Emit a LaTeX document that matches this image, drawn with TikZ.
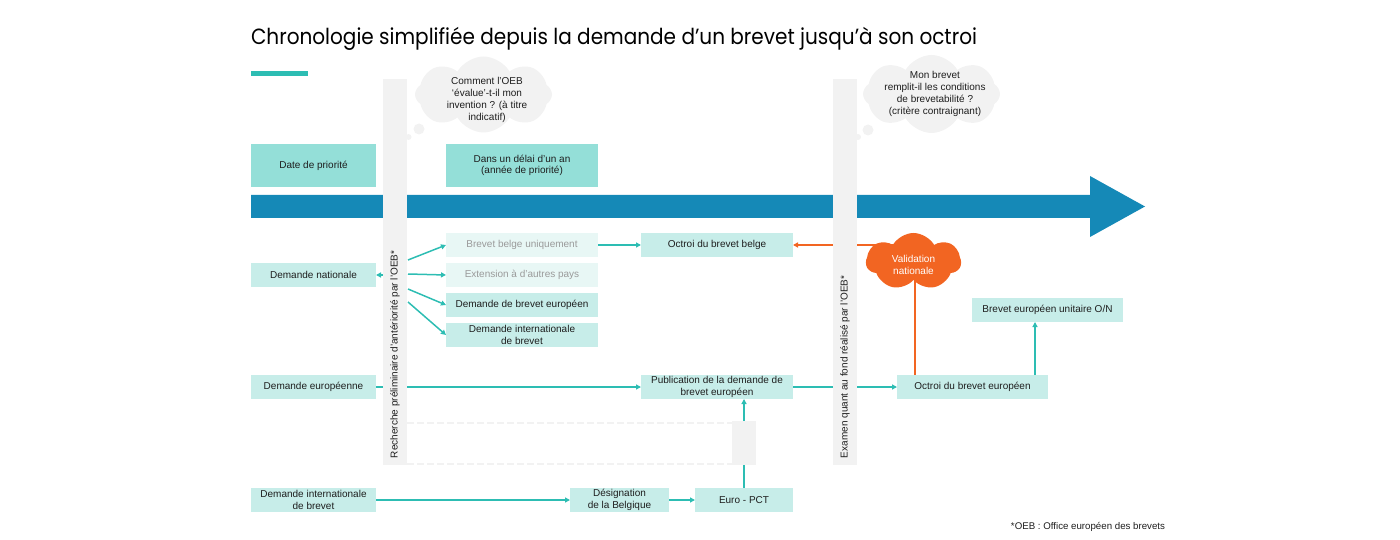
\documentclass[tikz,border=0pt]{standalone}
\usepackage{fontspec}
\usepackage{graphicx}
\setmainfont{Liberation Sans}
\newfontfamily\titlefont{Poppins}
\usetikzlibrary{positioning,shapes.symbols,arrows.meta,backgrounds}
\definecolor{arrowblue}{HTML}{1589B7}
\definecolor{boxdark}{HTML}{94DFD8}
\definecolor{boxlight}{HTML}{C7EDE9}
\definecolor{boxpale}{HTML}{E8F7F5}
\definecolor{linkteal}{HTML}{2DBDB3}
\definecolor{validorange}{HTML}{F26522}
\definecolor{bargray}{HTML}{F2F2F2}
\definecolor{textdark}{HTML}{1E1E1E}
\definecolor{textpale}{HTML}{9A9A9A}
\newcommand{\bubble}[2]{\fill[bargray] (#1) circle [radius=#2];}
\tikzstyle{every node}=[font=\fontsize{10}{11.5}\selectfont, text=textdark, inner sep=0, outer sep=0, align=center]
\tikzstyle{box}=[fill=boxlight, minimum height=24pt]
\tikzstyle{palebox}=[fill=boxpale, minimum height=24pt, minimum width=152pt, text=textpale]
\tikzstyle{headbox}=[fill=boxdark, minimum height=43pt]
\tikzstyle{bar}=[fill=bargray, minimum width=24pt, minimum height=386pt]
\tikzstyle{bartext}=[rotate=90, anchor=west, font=\fontsize{10}{12}\selectfont]
\tikzstyle{thought}=[shape=cloud, cloud puffs=8, cloud puff arc=120, aspect=1.8, fill=bargray]
\tikzstyle{thoughttext}=[font=\fontsize{10}{12}\selectfont]
\tikzstyle{link}=[draw=linkteal, line width=1.5pt, -{Triangle[length=5pt, width=5pt]}]
\tikzstyle{orangelink}=[draw=validorange, line width=1.5pt, -{Triangle[length=5pt, width=5pt]}]

\begin{document}
\begin{tikzpicture}[x=1pt, y=-1pt]
\useasboundingbox (0,0) rectangle (1400,540);

% title
\node[anchor=base west, font=\titlefont\fontsize{22}{24}\selectfont, text=black] (title) at (251,45)
  {\resizebox{726pt}{\height}{Chronologie simplifiée depuis la demande d’un brevet jusqu’à son octroi}};
\fill[linkteal] (251,71) rectangle (308,76);

% time line
\fill[arrowblue] (251,195) -- (1090,195) -- (1090,176) -- (1145,206.5) -- (1090,237) -- (1090,218) -- (251,218) -- cycle;

\node[headbox, minimum width=125pt] (prio) at (313.5,165.5) {Date de priorité};
\node[headbox, minimum width=152pt] (year) at (522,165.5) {Dans un délai d’un an\\(année de priorité)};

% thought clouds
\node[thought, minimum width=137pt, minimum height=76pt] (ask) at (483.5,94.5) {};
\node[thoughttext] (asktext) at (487,100) {Comment l’OEB\\‘évalue’-t-il mon\\invention ? (à titre\\indicatif)};
\bubble{419,129}{5.5pt}
\bubble{408.5,137}{3pt}
\node[thought, minimum width=137pt, minimum height=78pt] (check) at (931.5,94) {};
\node[thoughttext] (checktext) at (935,94) {Mon brevet\\remplit-il les conditions\\de brevetabilité ?\\(critère contraignant)};
\bubble{868,130}{5.5pt}
\bubble{858,137}{3pt}

% national route
\node[box, minimum width=125pt] (natdem) at (313.5,275) {Demande nationale};
\node[palebox] (onlybe) at (522,245) {Brevet belge uniquement};
\node[palebox, below=6pt of onlybe] (extend) {Extension à d’autres pays};
\node[box, minimum width=152pt, below=6pt of extend] (epapp) {Demande de brevet européen};
\node[box, minimum width=152pt, below=6pt of epapp] (pctapp) {Demande internationale\\de brevet};
\node[box, minimum width=152pt] (begrant) at (717,245) {Octroi du brevet belge};

% european route
\node[box, minimum width=125pt] (eudem) at (313.5,387) {Demande européenne};
\node[box, minimum width=152pt] (publ) at (717,387) {Publication de la demande de\\brevet européen};
\node[box, minimum width=151pt] (eugrant) at (972.5,387) {Octroi du brevet européen};
\node[box, minimum width=151pt] (unit) at (1047.5,310) {Brevet européen unitaire O/N};

% international route
\node[box, minimum width=125pt] (intdem) at (313.5,500) {Demande internationale\\de brevet};
\node[box, minimum width=99pt] (desig) at (619.5,500) {Désignation\\de la Belgique};
\node[box, minimum width=98pt] (europct) at (744,500) {Euro - PCT};

\begin{scope}[on background layer]
\foreach \y/\t in {260/onlybe, 274/extend, 289/epapp, 302/pctapp}
{
\draw[link] (408,\y) -- (\t.west);
}
\draw[link] (383,275) -- (natdem.east);
\draw[link] (onlybe) -- (begrant);
\draw[link] (eudem) -- (publ);
\draw[link] (publ) -- (eugrant);
\draw[link] (1035,375) -- (1035,322);
\draw[link] (intdem) -- (desig);
\draw[link] (desig) -- (europct);
\draw[link] (europct.north) -- (europct.north |- publ.south);
\draw[orangelink] (913,245) -- (begrant.east);
\draw[draw=validorange, line width=1.5pt] (915,262) -- (915,375);
\draw[bargray, line width=2pt, dash pattern=on 7pt off 3pt] (407,423) -- (732,423) (407,464) -- (732,464);
\end{scope}

% validation cloud
\node[shape=cloud, cloud puffs=7, cloud puff arc=120, aspect=1.5, fill=validorange, minimum width=95pt, minimum height=57pt] (valid) at (913.5,261.5) {};
\node[thoughttext, text=white] (validtext) at (913.5,265) {Validation\\nationale};

% search and examination bars
\node[bar] (search) at (395,272) {};
\node[bartext] (searchtext) at ([yshift=7pt]search.south) {Recherche préliminaire d’antériorité par l’OEB*};
\node[bar] (exam) at (845,272) {};
\node[bartext] (examtext) at ([yshift=7pt]exam.south) {Examen quant au fond réalisé par l’OEB*};
\node[fill=bargray, minimum width=24pt, minimum height=44pt] (gap) at (744,443) {};

\node[anchor=base east, font=\fontsize{9.7}{11}\selectfont] (note) at (1165,529) {*OEB : Office européen des brevets};
\end{tikzpicture}
\end{document}
